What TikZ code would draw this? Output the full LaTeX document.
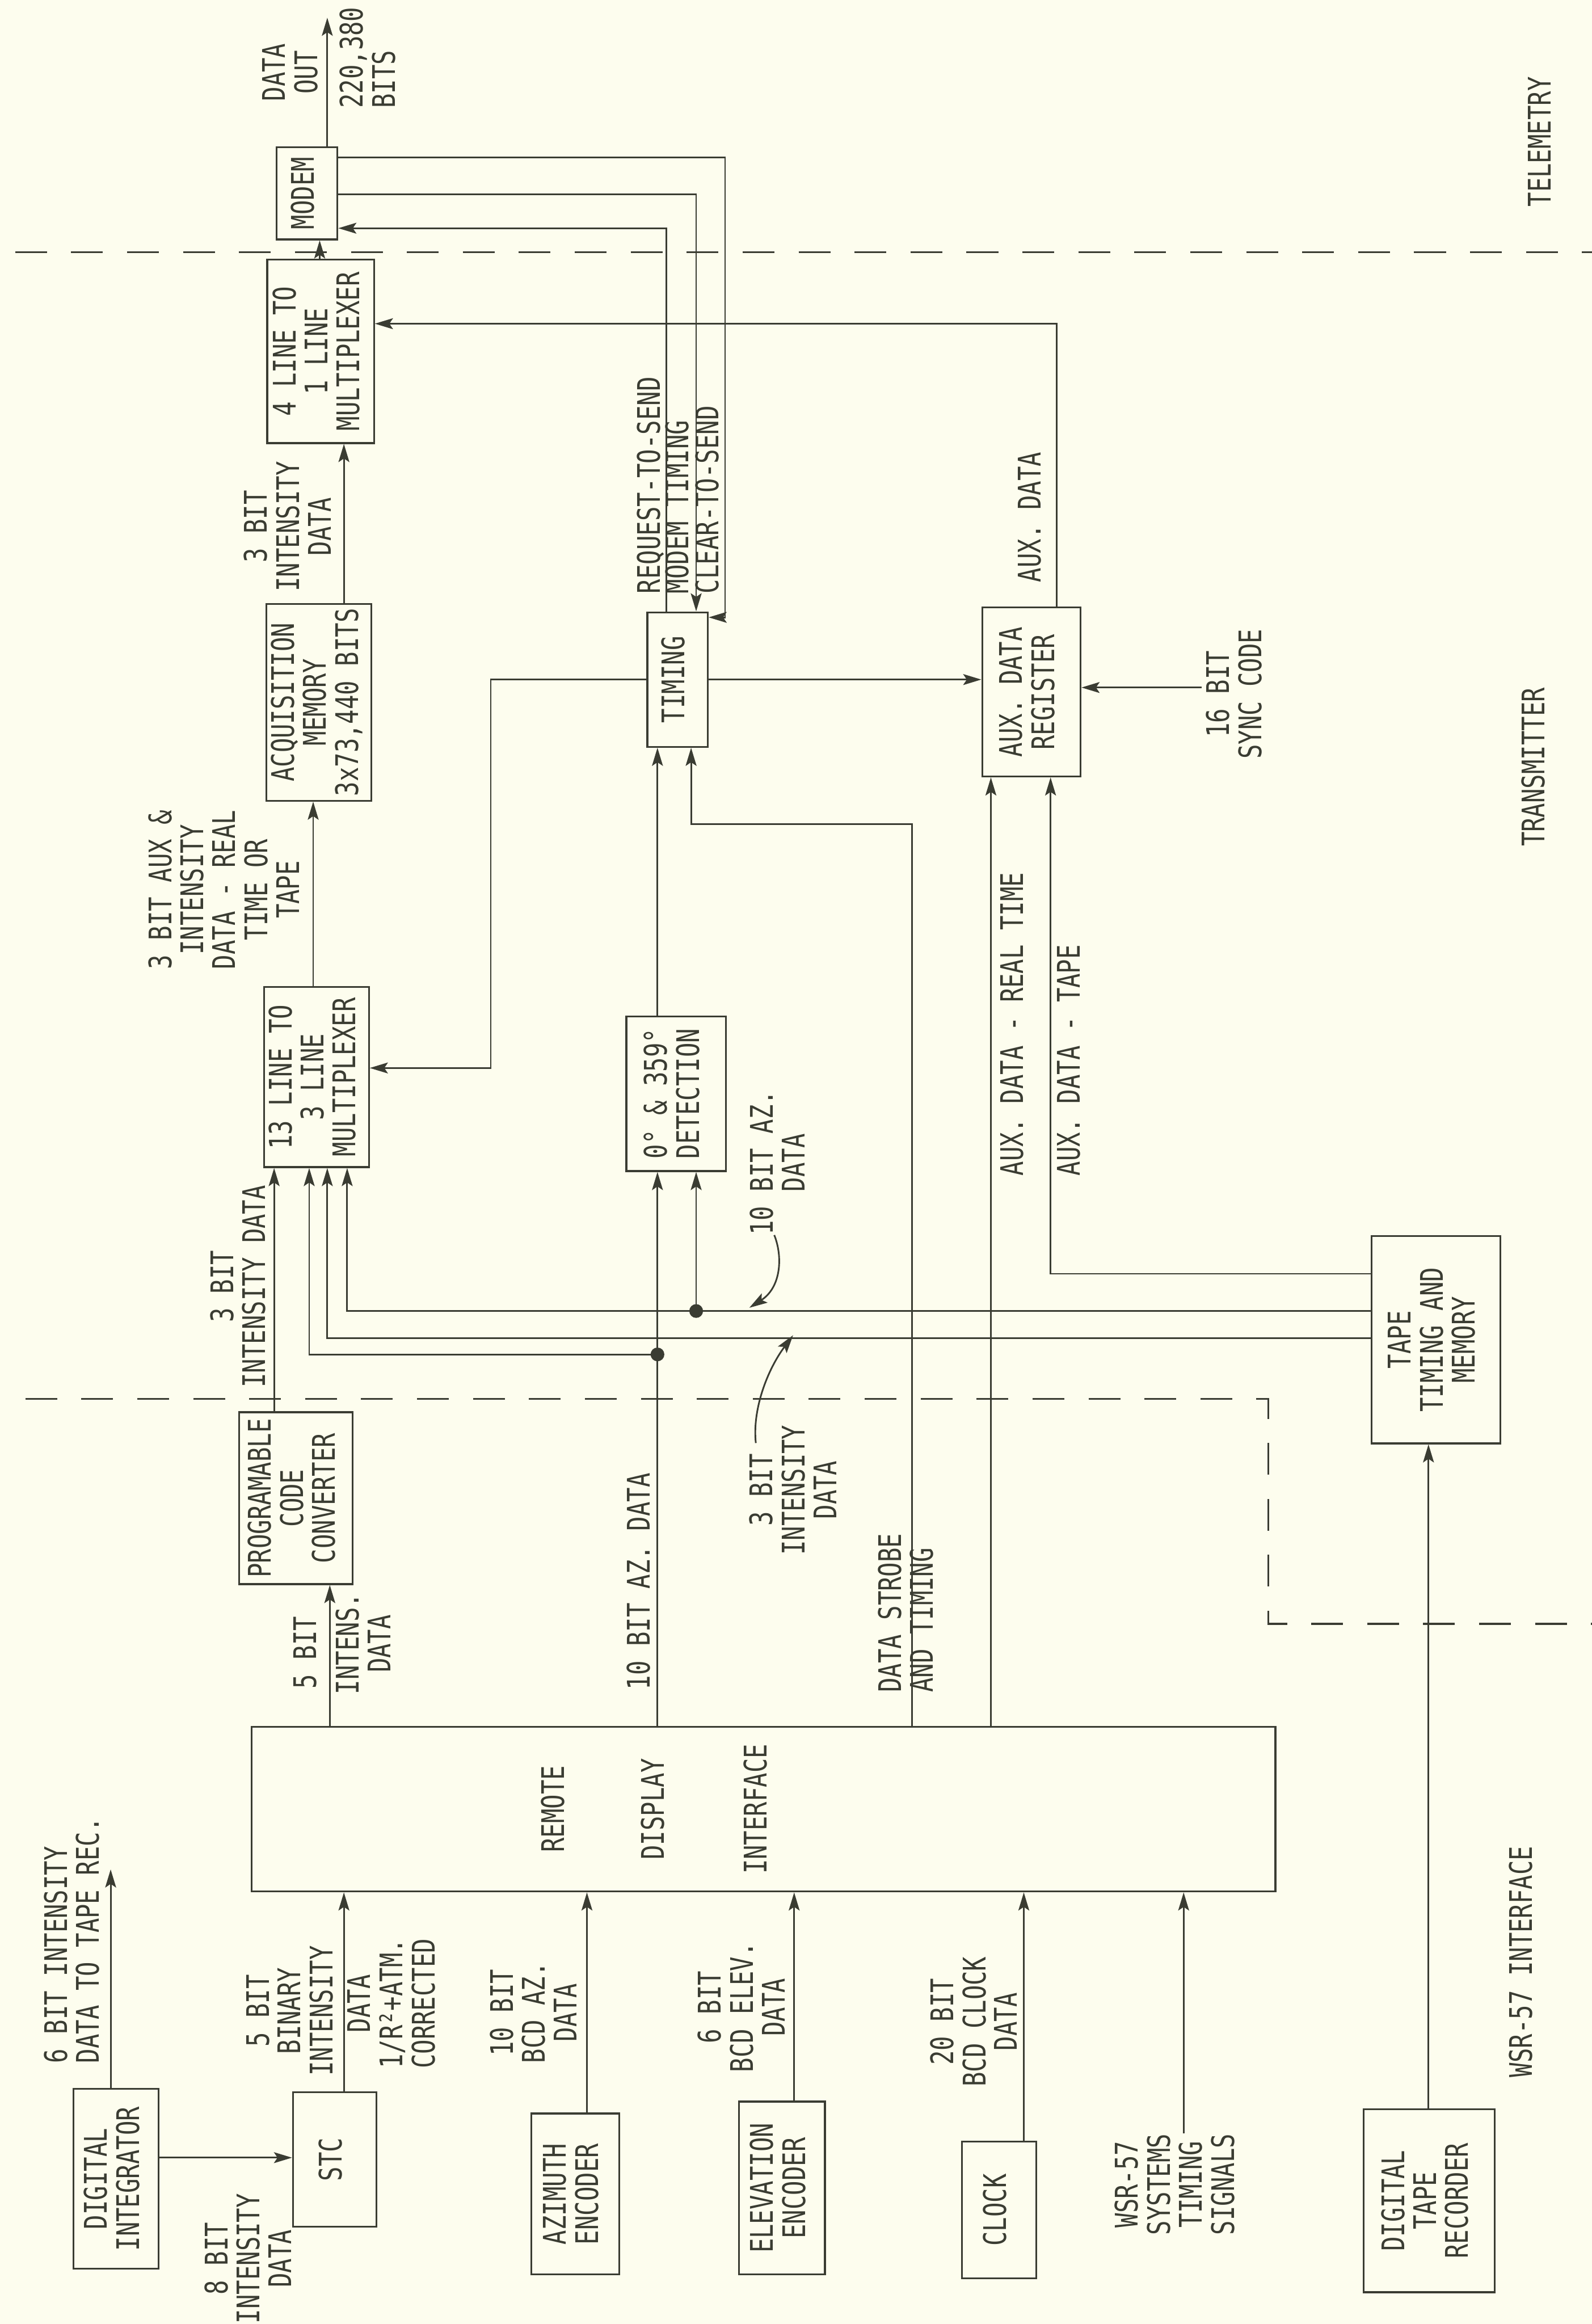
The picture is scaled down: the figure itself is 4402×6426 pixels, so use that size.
\documentclass[tikz,border=0pt]{standalone}
\usepackage{fontspec}
\setmainfont{DejaVu Sans Mono}[FakeStretch=0.77]
\usepackage{graphicx}
\usetikzlibrary{arrows.meta}
\definecolor{ink}{RGB}{58,60,50}
\definecolor{paper}{RGB}{253,253,238}
\newcommand{\rtext}[1]{\rotatebox{90}{\begin{tabular}{@{}c@{}}#1\end{tabular}}}
\newcommand{\rtextl}[1]{\rotatebox{90}{\begin{tabular}{@{}l@{}}#1\end{tabular}}}
\begin{document}
\begin{tikzpicture}[x=0.01cm,y=-0.01cm,
  every node/.style={font=\fontsize{24.5}{23.5}\selectfont, text=ink},
  box/.style={draw=ink, line width=1.4pt, inner sep=0pt},
  lab/.style={inner sep=0pt},
  arr/.style={draw=ink, line width=1.3pt, -{Stealth[length=0.5cm,width=0.3cm,inset=0.1cm]}},
  wire/.style={draw=ink, line width=1.3pt},
  divider/.style={draw=ink, line width=1.4pt, dash pattern=on 25pt off 19pt},
  junction/.style={fill=ink}]
\fill[paper] (0,0) rectangle (4402,6426);
\useasboundingbox (0,0) rectangle (4402,6426);

% ---------- boxes ----------
\node[box, minimum width=1.68cm, minimum height=2.55cm] (modem) at (849,534.5) {\rtext{MODEM}};
\node[box, minimum width=2.95cm, minimum height=5.07cm] (mux4) at (886.5,971.5) {\rtext{4 LINE TO\\1 LINE\\MULTIPLEXER}};
\node[box, minimum width=2.90cm, minimum height=5.44cm] (acq) at (882,1942) {\rtext{ACQUISITION\\MEMORY\\3x73,440 BITS}};
\node[box, minimum width=1.67cm, minimum height=3.72cm] (timing) at (1873.5,1879) {\rtext{TIMING}};
\node[box, minimum width=2.72cm, minimum height=4.67cm] (auxreg) at (2852,1913.5) {\rtext{AUX. DATA\\REGISTER}};
\node[box, minimum width=2.90cm, minimum height=4.98cm] (mux13) at (875,2978) {\rtext{13 LINE TO\\3 LINE\\MULTIPLEXER}};
\node[box, minimum width=2.75cm, minimum height=4.28cm] (det) at (1869.5,3024) {\rtext{0° \& 359°\\DETECTION}};
\node[box, minimum width=3.13cm, minimum height=4.75cm] (pcc) at (818.5,4142.5) {\rtext{PROGRAMABLE\\CODE\\CONVERTER}};
\node[box, minimum width=3.56cm, minimum height=5.73cm] (tape) at (3971,3704.5) {\rtext{TAPE\\TIMING AND\\MEMORY}};
\node[box, minimum width=28.29cm, minimum height=4.55cm] (rdi) at (2111.5,5002.5) {};
\node[lab] (rdiA) at (1540,5002) {\rtext{REMOTE}};
\node[lab] (rdiB) at (1817,5002) {\rtext{DISPLAY}};
\node[lab] (rdiC) at (2100,5002) {\rtext{INTERFACE}};
\node[box, minimum width=2.36cm, minimum height=4.97cm] (di) at (321,6024.5) {\rtext{DIGITAL\\INTEGRATOR}};
\node[box, minimum width=2.31cm, minimum height=3.72cm] (stc) at (925.5,5971) {\rtext{STC}};
\node[box, minimum width=2.43cm, minimum height=4.45cm] (az) at (1590.5,6066.5) {\rtext{AZIMUTH\\ENCODER}};
\node[box, minimum width=2.37cm, minimum height=4.78cm] (el) at (2162.5,6050) {\rtext{ELEVATION\\ENCODER}};
\node[box, minimum width=2.06cm, minimum height=3.77cm] (clock) at (2763,6110.5) {\rtext{CLOCK}};
\node[box, minimum width=3.62cm, minimum height=5.06cm] (dtr) at (3952,6085) {\rtext{DIGITAL\\TAPE\\RECORDER}};

% ---------- coordinates ----------
\coordinate (dataout) at (905,49);
\coordinate (tapeout) at (306,5169);
\coordinate (syncin) at (3322,1901);
\coordinate (dotA) at (1925,3625);
\coordinate (dotC) at (1818,3745);

% ---------- labels ----------
\node[lab] (l1) at (814,200) {\rtext{DATA\\OUT}};
\node[lab, anchor=south] (l2) at (1028,300) {\rtextl{220,380\\BITS}};
\node[lab] (l3) at (807,1456) {\rtext{3 BIT\\INTENSITY\\DATA}};
\node[lab, anchor=south] (l4) at (1806,1642) {\rtext{REQUEST-TO-SEND}};
\node[lab, anchor=south] (l5) at (1884,1642) {\rtext{MODEM TIMING}};
\node[lab, anchor=south] (l6) at (1968,1642) {\rtext{CLEAR-TO-SEND}};
\node[lab] (l7) at (631,2460) {\rtext{3 BIT AUX \&\\INTENSITY\\DATA - REAL\\TIME OR\\TAPE}};
\node[lab] (l8) at (2859,1430) {\rtext{AUX. DATA}};
\node[lab] (l9) at (3424,1919) {\rtext{16 BIT\\SYNC CODE}};
\node[lab] (l10) at (2162,3215) {\rtext{10 BIT AZ.\\DATA}};
\node[lab] (l11) at (2205,4120) {\rtext{3 BIT\\INTENSITY\\DATA}};
\node[lab] (l12) at (670,3557) {\rtext{3 BIT\\INTENSITY DATA}};
\node[lab, anchor=south] (l13) at (2810,3252) {\rtext{AUX. DATA - REAL TIME}};
\node[lab, anchor=south] (l14) at (2968,3252) {\rtext{AUX. DATA - TAPE}};
\node[lab, anchor=south] (l15) at (2472,4680) {\rtext{DATA STROBE}};
\node[lab, anchor=south] (l16) at (2560,4680) {\rtext{AND TIMING}};
\node[lab, anchor=south] (l17) at (856,4670) {\rtext{5 BIT}};
\node[lab] (l18) at (1017,4545) {\rtext{INTENS.\\DATA}};
\node[lab, anchor=south] (l19) at (1778,4673) {\rtext{10 BIT AZ. DATA}};
\node[lab, anchor=south] (l20) at (210,5705) {\rtextl{6 BIT INTENSITY\\DATA TO TAPE REC.}};
\node[lab] (l21) at (698,6245) {\rtext{8 BIT\\INTENSITY\\DATA}};
\node[lab] (l22) at (813,5560) {\rtext{5 BIT\\BINARY\\INTENSITY}};
\node[lab] (l23) at (1094,5540) {\rtext{DATA\\1/R²+ATM.\\CORRECTED}};
\node[lab] (l24) at (1487,5565) {\rtext{10 BIT\\BCD AZ.\\DATA}};
\node[lab] (l25) at (2062,5550) {\rtext{6 BIT\\BCD ELEV.\\DATA}};
\node[lab] (l26) at (2705,5590) {\rtext{20 BIT\\BCD CLOCK\\DATA}};
\node[lab] (wsr) at (3260,6040) {\rtext{WSR-57\\SYSTEMS\\TIMING\\SIGNALS}};
\node[lab] (telem) at (4270,392) {\rtext{TELEMETRY}};
\node[lab] (trans) at (4252,2121) {\rtext{TRANSMITTER}};
\node[lab] (wsrif) at (4217,5424) {\rtext{WSR-57 INTERFACE}};

% ---------- dividers ----------
\draw[divider] (42,697) -- (4402,697);
\draw[divider] (70,3868) -- (3507,3868) -- (3507,4490) -- (4402,4490);

% ---------- connectors ----------
\draw[arr] (modem.north -| 905,0) -- (dataout);
\draw[arr] (mux4.north -| 884,0) -- (modem.south -| 884,0);
\draw[arr] (acq.north -| 951,0) -- (mux4.south -| 951,0);
\draw[arr] (mux13.north -| 866,0) -- (acq.south -| 866,0);
\draw[arr] (auxreg.north -| 2922,0) |- (mux4.east |- 0,895);
\draw[arr] (timing.west) -| (1357,2953) -- (mux13.east |- 0,2953);
\draw[arr] (timing.east) -- (auxreg.west |- timing.east);
\draw[arr] (syncin) -- (auxreg.east |- syncin);
% modem handshake
\draw[arr] (modem.east |- 0,435) -| (2005,1707) -- (timing.east |- 0,1707);
\draw[arr] (modem.east |- 0,537) -| (timing.north -| 1925,0);
\draw[arr] (timing.north -| 1843,0) |- (modem.east |- 0,631);
% timing inputs
\draw[arr] (det.north -| 1818,0) -- (timing.south -| 1818,0);
\draw[arr] (rdi.north -| 2522,0) |- (1911,2279) -- (timing.south -| 1911,0);
% detection inputs
\draw[arr] (rdi.north -| 1818,0) -- (det.south -| 1818,0);
\draw[arr] (dotA) -- (det.south -| 1925,0);
% mux13 inputs
\draw[arr] (pcc.north -| 758,0) -- (mux13.south -| 758,0);
\draw[arr] (dotC) -| (mux13.south -| 855,0);
\draw[arr] (tape.west |- 0,3700) -| (mux13.south -| 905,0);
\draw[arr] (tape.west |- 0,3625) -| (mux13.south -| 960,0);
% aux register inputs
\draw[arr] (tape.west |- 0,3522) -| (auxreg.south -| 2905,0);
\draw[arr] (rdi.north -| 2740,0) -- (auxreg.south -| 2740,0);
% rdi outputs / inputs
\draw[arr] (rdi.north -| 912,0) -- (pcc.south -| 912,0);
\draw[arr] (di.north -| 306,0) -- (tapeout);
\draw[arr] (di.east |- 0,5966) -- (stc.west |- 0,5966);
\draw[arr] (stc.north -| 951,0) -- (rdi.south -| 951,0);
\draw[arr] (az.north -| 1623,0) -- (rdi.south -| 1623,0);
\draw[arr] (el.north -| 2196,0) -- (rdi.south -| 2196,0);
\draw[arr] (clock.north -| 2831,0) -- (rdi.south -| 2831,0);
\draw[arr] (wsr.north -| 3273,0) -- (rdi.south -| 3273,0);
\draw[arr] (dtr.north -| 3950,0) -- (tape.south -| 3950,0);
% junction dots
\fill[junction] (dotA) circle (0.19cm);
\fill[junction] (dotC) circle (0.19cm);
% pointer arrows
\draw[arr] (2141,3415) .. controls (2165,3475) and (2160,3560) .. (2072,3616);
\draw[arr] (2090,3990) .. controls (2080,3900) and (2120,3790) .. (2193,3692);
\end{tikzpicture}
\end{document}
